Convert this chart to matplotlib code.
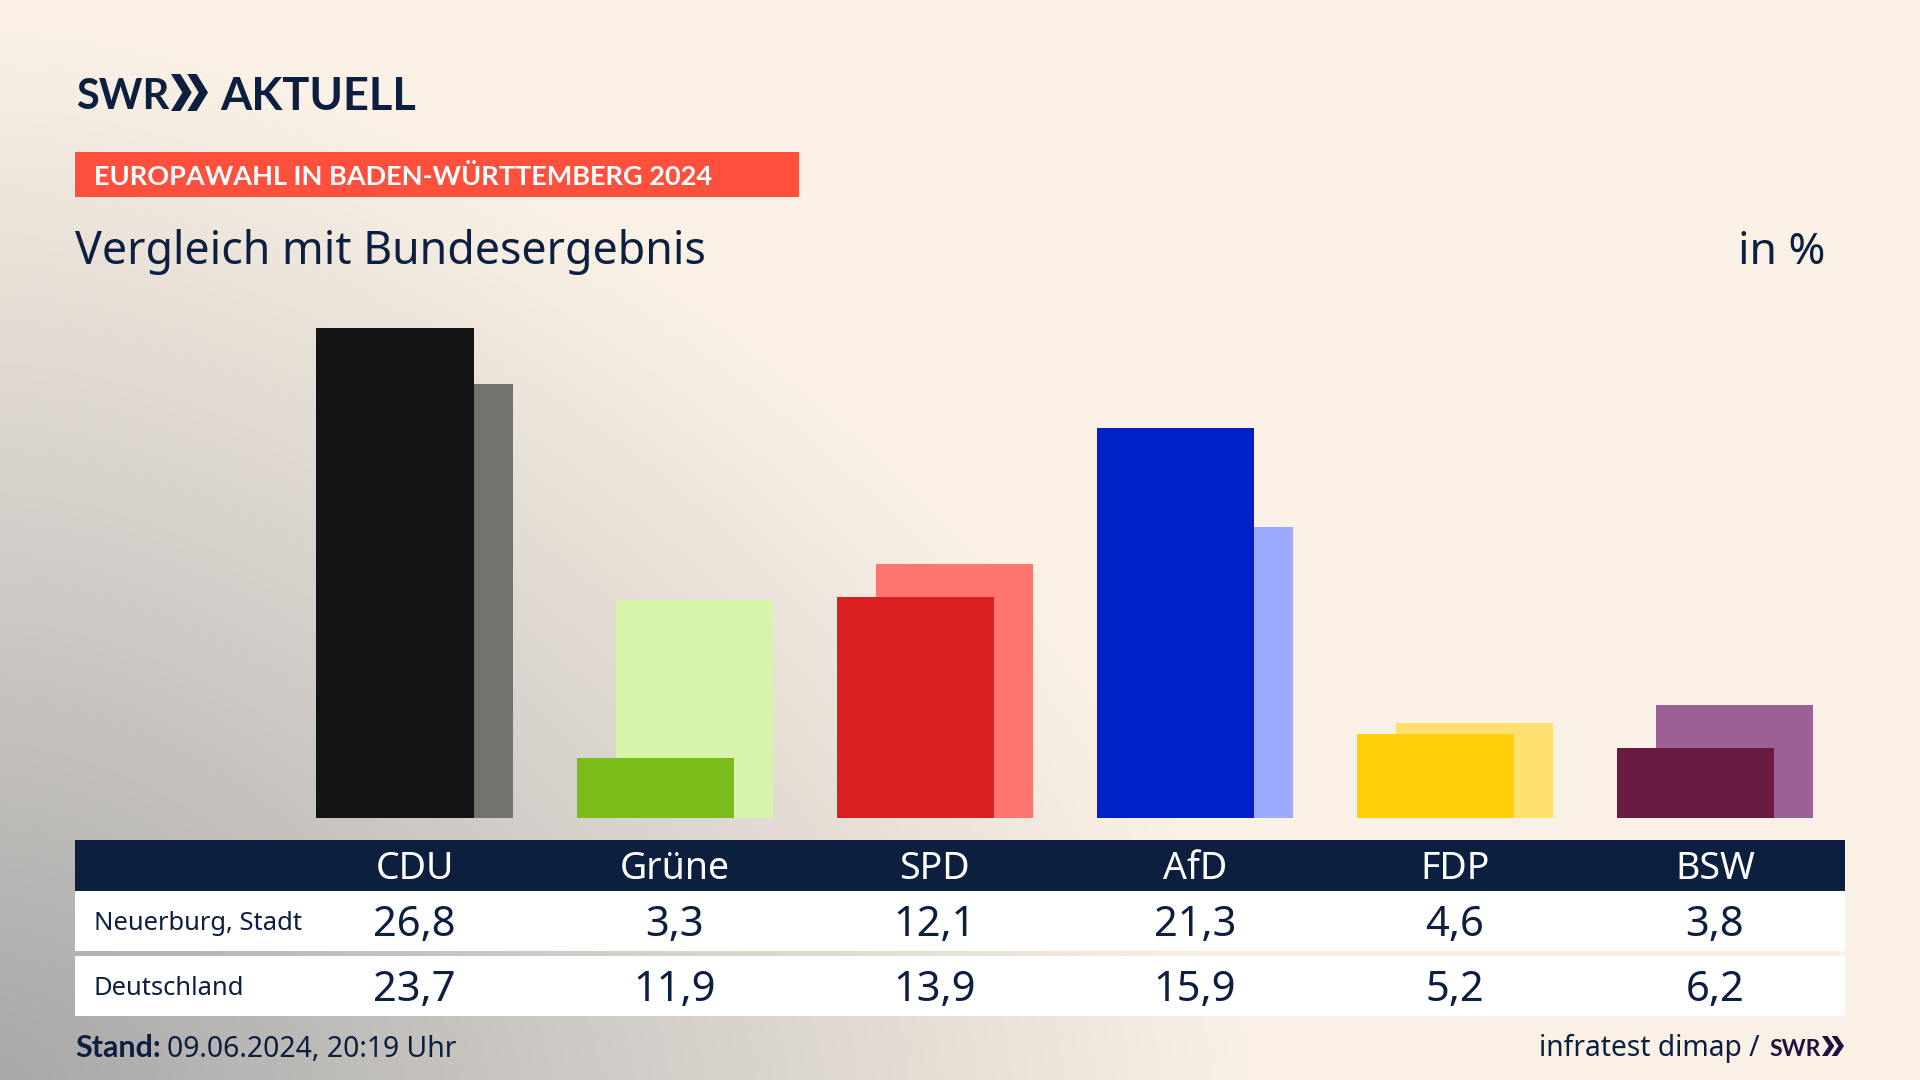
import numpy as np
import matplotlib
matplotlib.use("Agg")
import matplotlib.pyplot as plt
from matplotlib.patches import Rectangle, Polygon
from matplotlib.transforms import blended_transform_factory

parties = ["CDU", "Grüne", "SPD", "AfD", "FDP", "BSW"]
neuerburg = [26.8, 3.3, 12.1, 21.3, 4.6, 3.8]
deutschland = [23.7, 11.9, 13.9, 15.9, 5.2, 6.2]
front_colors = ["#141414", "#7ABD1A", "#D91F1F", "#0021C7", "#FFCF0A", "#691A40"]
back_colors = ["#73726F", "#D6F5AB", "#FF7570", "#9CAAFF", "#FFE071", "#9C6096"]
row_labels = ["Neuerburg, Stadt", "Deutschland"]
title = "Vergleich mit Bundesergebnis"
band = "EUROPAWAHL IN BADEN-WÜRTTEMBERG 2024"

NAVY = "#0C1F3F"
FONT = "Noto Sans"
BOLD = ["Lato", "DejaVu Sans"]
plt.rcParams["font.family"] = [FONT, "DejaVu Sans"]
W, H = 1920, 1080
fig = plt.figure(figsize=(19.2, 10.8), dpi=100)

bg = fig.add_axes([0, 0, 1, 1])
bg.set_xlim(0, W); bg.set_ylim(H, 0); bg.axis("off")
yy, xx = np.mgrid[0:H:4, 0:W:4]
t = np.clip(((xx / 1250) ** 1.6 + ((H - yy) / 1050) ** 1.6) ** (1 / 1.6), 0, 1)[..., None]
c0 = np.array([168, 168, 168]) / 255
c1 = np.array([250, 241, 230]) / 255
bg.imshow(c0 + (c1 - c0) * t, extent=[0, W, H, 0], aspect="auto", zorder=0, interpolation="bilinear")
bg.set_xlim(0, W); bg.set_ylim(H, 0)

def rect(x0, y0, x1, y1, c):
    bg.add_patch(Rectangle((x0, y0), x1 - x0, y1 - y0, fc=c, ec="none", zorder=1))

def chevrons(x0, y0, w, h, c):
    cw = w * 0.56
    tip = cw * 0.55
    for dx in (0, w - cw):
        pts = [(x0 + dx + cw - tip, y0), (x0 + dx + cw, y0 + h / 2), (x0 + dx + cw - tip, y0 + h),
               (x0 + dx, y0 + h), (x0 + dx + tip, y0 + h / 2), (x0 + dx, y0)]
        bg.add_patch(Polygon(pts, closed=True, fc=c, ec="none", zorder=3))

# logo
bg.text(76, 109, "SWR", fontsize=30, fontweight="bold", family=BOLD, color=NAVY, va="baseline", zorder=3)
chevrons(171, 74, 37, 37, NAVY)
bg.text(220, 110, "AKTUELL", fontsize=32.5, fontweight="bold", family=BOLD, color=NAVY, va="baseline", zorder=3)

# band and title
rect(75, 152, 799, 197, "#FF4F3D")
bg.text(94, 185, band, fontsize=19.5, fontweight="bold", family=BOLD, color="white", va="baseline", zorder=3)
bg.text(75, 264, title, fontsize=32.2, color=NAVY, va="baseline", zorder=3)
bg.text(1825, 264, "in %", fontsize=32, color=NAVY, va="baseline", ha="right", zorder=3)

# table
rect(75, 840, 1845, 891, NAVY)
rect(75, 891, 1845, 951, "white")
rect(75, 956, 1845, 1016, "white")

# bars
BASE, PX_UNIT, CX0, PERIOD = 818, 18.3, 414.5, 260.1
top_val = 30.0
ax = fig.add_axes([75 / W, (H - BASE) / H, (1845 - 75) / W, top_val * PX_UNIT / H])
ax.patch.set_alpha(0); ax.axis("off")
ax.set_xlim((75 - CX0) / PERIOD, (1845 - CX0) / PERIOD)
ax.set_ylim(0, top_val)
x = np.arange(len(parties))
bw, off = 157.2 / PERIOD, 39 / PERIOD
left = x - (bw + off) / 2
ax.bar(left + off, deutschland, width=bw, align="edge", color=back_colors, zorder=2, linewidth=0)
ax.bar(left, neuerburg, width=bw, align="edge", color=front_colors, zorder=3, linewidth=0)

# table text, x from the bars axis, y in pixels
tr = blended_transform_factory(ax.transData, bg.transData)
fmt = lambda v: f"{v:.1f}".replace(".", ",")
for i, p in enumerate(parties):
    bg.text(i, 879, p, transform=tr, ha="center", va="baseline", fontsize=27, color="white", zorder=4)
    bg.text(i, 936, fmt(neuerburg[i]), transform=tr, ha="center", va="baseline", fontsize=30, color=NAVY, zorder=4)
    bg.text(i, 1001, fmt(deutschland[i]), transform=tr, ha="center", va="baseline", fontsize=30, color=NAVY, zorder=4)
bg.text(94, 930, row_labels[0], fontsize=18.4, color=NAVY, va="baseline", zorder=4)
bg.text(94, 995, row_labels[1], fontsize=18.4, color=NAVY, va="baseline", zorder=4)

# footer
bg.text(75, 1057, "Stand:", fontsize=22, fontweight="bold", family=BOLD, color=NAVY, va="baseline", zorder=4)
bg.text(167, 1057, "09.06.2024, 20:19 Uhr", fontsize=20.4, color=NAVY, va="baseline", zorder=4)
bg.text(1760, 1056, "infratest dimap /", fontsize=20.3, color=NAVY, va="baseline", ha="right", zorder=4)
bg.text(1769, 1056, "SWR", fontsize=16.5, fontweight="bold", family=BOLD, color="#24103F", va="baseline", zorder=4)
chevrons(1822, 1036, 22, 20, "#24103F")

fig.savefig("out.png", dpi=100)
